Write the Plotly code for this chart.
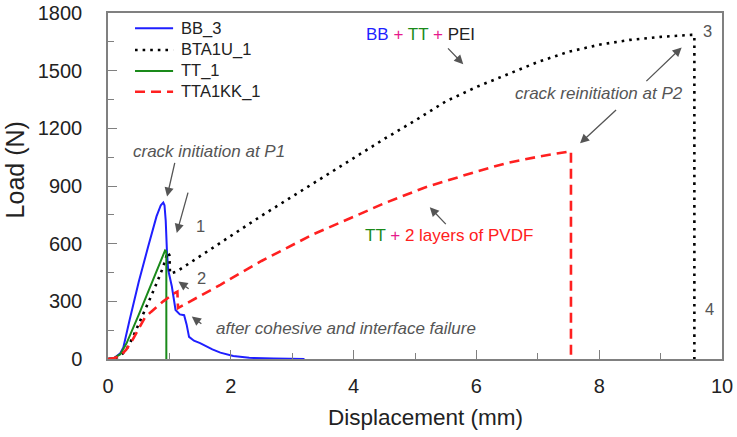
import plotly.graph_objects as go

# ---- data ----
bb3_x = [0, 0.1, 0.2, 0.25, 0.35, 0.5, 0.65, 0.79, 0.86, 0.9, 0.92, 0.94, 0.96, 0.98, 1.04, 1.07, 1.1, 1.17,
         1.24, 1.28, 1.32, 1.4, 1.5, 1.7, 1.83, 2.04, 2.3, 2.7, 3.2]
bb3_y = [0, 5, 30, 60, 200, 400, 580, 742, 800, 814, 800, 720, 560, 464, 377, 325, 255, 232,
         228, 180, 115, 95, 83, 50, 33, 16, 6, 2, 0]

bta_x = [0, 0.1, 0.2, 0.3, 0.4, 0.5, 0.6, 0.7, 0.8, 0.9, 0.97, 1.0, 1.01, 1.12, 1.5, 2.0, 2.5, 3.0, 3.5,
         4.0, 4.5, 5.0, 5.5, 6.0, 6.5, 7.0, 7.5, 8.0, 8.5, 9.0, 9.5, 9.55, 9.55]
bta_y = [0, 3, 15, 50, 110, 180, 250, 325, 400, 480, 555, 540, 445, 455, 535, 640, 745, 845, 945,
         1045, 1145, 1240, 1340, 1415, 1480, 1545, 1598, 1635, 1660, 1676, 1686, 1686, 0]

tt1_x = [0, 0.1, 0.2, 0.3, 0.5, 0.7, 0.93, 0.95, 0.95]
tt1_y = [0, 5, 25, 80, 230, 385, 565, 560, 0]

tta_x = [0, 0.1, 0.2, 0.3, 0.4, 0.5, 0.6, 0.7, 0.9, 1.07, 1.13, 1.14, 1.34, 1.83, 2.5, 3.35, 4.0, 4.5,
         5.14, 5.58, 6.0, 6.5, 7.05, 7.54, 7.54]
tta_y = [0, 5, 15, 50, 100, 160, 215, 245, 300, 340, 350, 265, 300, 386, 510, 650, 740, 810,
         890, 935, 975, 1020, 1055, 1081, 0]

series_names = ["BB_3", "BTA1U_1", "TT_1", "TTA1KK_1"]
x_ticks = [0, 2, 4, 6, 8, 10]
y_ticks = [0, 300, 600, 900, 1200, 1500, 1800]

FONT = "Liberation Sans, Arial, sans-serif"
GRAY = "#555555"
AX = "#808080"
TXT = "#222222"

styles = [
    dict(color="#1f1fff", width=2),
    dict(color="#000000", width=2.6, dash="2.6px,5px"),
    dict(color="#1a8a1a", width=2),
    dict(color="#ff2020", width=2.6, dash="10px,6px"),
]
xs = [bb3_x, bta_x, tt1_x, tta_x]
ys = [bb3_y, bta_y, tt1_y, tta_y]

fig = go.Figure()
for name, x, y, st in zip(series_names, xs, ys, styles):
    fig.add_trace(go.Scatter(x=x, y=y, mode="lines", name=name, line=st, showlegend=False))

def arrow(tx, ty, hx, hy):
    return dict(x=hx, y=hy, ax=tx, ay=ty, xref="x", yref="y", axref="x", ayref="y",
                text="", showarrow=True, arrowhead=2, arrowsize=1.4, arrowwidth=1.3,
                arrowcolor=GRAY, standoff=0, startstandoff=0)

def label(x, y, t, italic=False, size=17, color=GRAY):
    return dict(x=x, y=y, xref="x", yref="y", text=t, showarrow=False,
                font=dict(family=FONT, size=size, color=color,
                          style="italic" if italic else "normal"),
                xanchor="center", yanchor="middle")

ann = [
    arrow(1.093, 1028, 0.962, 845),
    arrow(1.31, 873, 1.12, 656),
    arrow(1.338, 360, 1.147, 403),
    arrow(1.545, 177, 1.365, 221),
    arrow(5.514, 1624, 5.786, 1534),
    arrow(8.744, 1438, 9.343, 1621),
    arrow(8.299, 1303, 7.688, 1122),
    arrow(5.525, 694, 5.241, 789),
    label(1.648, 1081, "crack initiation at P1", italic=True),
    label(1.50, 690, "1", size=16.5),
    label(1.53, 421, "2", size=16.5),
    label(3.88, 160, "after cohesive and interface failure", italic=True),
    label(7.99, 1383, "crack reinitiation at P2", italic=True),
    label(9.77, 1708, "3", size=16.5),
    label(9.79, 259, "4", size=16.5),
    label(5.09, 1690,
          "<span style='color:#1f1fff'>BB</span> <span style='color:#e6198c'>+</span> "
          "<span style='color:#1a8a1a'>TT</span> <span style='color:#e6198c'>+</span> "
          "<span style='color:#222222'>PEI</span>"),
    label(5.56, 642,
          "<span style='color:#1a8a1a'>TT</span> <span style='color:#e6198c'>+</span> "
          "<span style='color:#ff2020'>2 layers of PVDF</span>"),
    dict(x=-0.152, y=0.547, xref="paper", yref="paper", text="Load (N)", showarrow=False,
         textangle=-90, font=dict(family=FONT, size=25, color=TXT),
         xanchor="center", yanchor="middle"),
    dict(x=0.517, y=-0.17, xref="paper", yref="paper", text="Displacement (mm)", showarrow=False,
         font=dict(family=FONT, size=22.5, color=TXT),
         xanchor="center", yanchor="middle"),
]

# legend (drawn with shapes + text so spacing matches the reference)
leg_y = [0.9558, 0.8931, 0.8324, 0.7726]
shapes = []
for name, st, ly in zip(series_names, styles, leg_y):
    shapes.append(dict(type="line", xref="paper", yref="paper", x0=0.044, x1=0.106, y0=ly, y1=ly,
                       line=st))
    ann.append(dict(x=0.1158, y=ly, xref="paper", yref="paper", text=name, showarrow=False,
                    xanchor="left", yanchor="middle",
                    font=dict(family=FONT, size=16.5, color=TXT)))

fig.update_layout(
    width=737, height=437,
    margin=dict(l=108, r=15, t=13, b=78),
    plot_bgcolor="white", paper_bgcolor="white",
    font=dict(family=FONT, color=TXT),
    showlegend=False,
    annotations=ann,
    shapes=shapes,
)
fig.update_xaxes(range=[0, 10], tickvals=x_ticks, ticktext=[str(v) for v in x_ticks],
                 showgrid=False, zeroline=False, showline=True, mirror=True, automargin=False,
                 linecolor=AX, linewidth=1.5, ticks="inside", ticklen=9, tickwidth=1.3,
                 tickcolor=AX, tickfont=dict(family=FONT, size=20, color=TXT),
                 ticklabelstandoff=8,
                 minor=dict(dtick=1, tick0=0, ticks="inside", ticklen=6, tickwidth=1.3, tickcolor=AX))
fig.update_yaxes(range=[0, 1800], tickvals=y_ticks, ticktext=[str(v) for v in y_ticks],
                 showgrid=False, zeroline=False, showline=True, mirror=True, automargin=False,
                 linecolor=AX, linewidth=1.5, ticks="inside", ticklen=9, tickwidth=1.3,
                 tickcolor=AX, tickfont=dict(family=FONT, size=20, color=TXT),
                 ticklabelstandoff=20,
                 minor=dict(dtick=150, tick0=0, ticks="inside", ticklen=6, tickwidth=1.3, tickcolor=AX))

fig.write_html("out.html", config={"displayModeBar": False},
               post_script="document.body.style.margin='0';document.body.style.overflow='hidden';")
